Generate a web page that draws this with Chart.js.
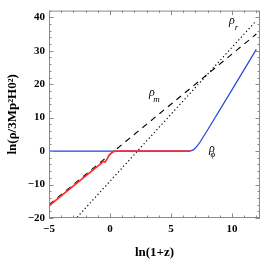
<!DOCTYPE html>
<html><head><meta charset="utf-8">
<script src="https://cdn.jsdelivr.net/npm/chart.js@4/dist/chart.umd.min.js"></script>
<style>html,body{margin:0;padding:0;background:#fff}#wrap{width:263px;height:263px}</style>
</head><body><div id="wrap"><canvas id="c" width="263" height="263"></canvas></div>
<script>
// ---- data ----
const xR   = [-5, 0, 5, 10, 12];
const rhoR = [-29, -9, 11, 31, 39];            // radiation (dotted)
const xM   = [-5, 0, 5, 10, 12];
const rhoM = [-16, -1, 14, 29, 35];            // matter (dashed)
const xPhiBlue = [-5, 6.4, 6.6, 6.8, 7.0, 7.2, 7.4, 8, 10, 12];
const rhoPhiBlue = [0, 0, 0.05, 0.3, 0.9, 1.8, 2.8, 6.3, 18.3, 30.4];
const xPhiRed = [-5, -3, -1, -0.7, -0.55, -0.4, -0.25, -0.1, 0.1, 0.3, 0.5, 1, 3, 6.6];
const rhoPhiRed = [-16.4, -10.4, -4.5, -3.6, -3.0, -3.3, -2.4, -1.4, -0.6, -0.1, 0, 0, 0, 0];
const xTicks = [-5, 0, 5, 10];
const yTicks = [-20, -10, 0, 10, 20, 30, 40];
const labelMain = ['ρ', 'ρ', 'ρ'];
const labelSub  = ['r', 'm', 'ϕ'];
const labelX = [10.0, 3.44, 8.36];
const labelY = [38.8, 17.3, 0.6];

const pts = (xs, ys) => xs.map((x, i) => ({x: x, y: ys[i]}));
const serif = "'Liberation Serif','DejaVu Serif',serif";
const minus = v => String(v).replace('-', '\u2212');

const framePlugin = {
  id: 'frame',
  afterDatasetsDraw(chart) {
    const {ctx, chartArea: a, scales: {x, y}} = chart;
    ctx.save();
    ctx.strokeStyle = '#8a8a8a';
    ctx.lineWidth = 1;
    ctx.strokeRect(a.left + 0.5, a.top + 0.5, a.right - a.left - 1, a.bottom - a.top - 1);
    ctx.beginPath();
    for (let v = -5; v <= 12; v += 1) {
      const p = Math.round(x.getPixelForValue(v)) + 0.5;
      const L = (xTicks.includes(v)) ? 4.5 : 2.5;
      ctx.moveTo(p, a.bottom); ctx.lineTo(p, a.bottom - L);
      ctx.moveTo(p, a.top); ctx.lineTo(p, a.top + L);
    }
    for (let v = -20; v <= 42; v += 2) {
      const p = Math.round(y.getPixelForValue(v)) + 0.5;
      const L = (yTicks.includes(v)) ? 4.5 : 2.5;
      ctx.moveTo(a.left, p); ctx.lineTo(a.left + L, p);
      ctx.moveTo(a.right, p); ctx.lineTo(a.right - L, p);
    }
    ctx.stroke();
    // curve labels
    ctx.fillStyle = '#000';
    ctx.textAlign = 'center';
    ctx.textBaseline = 'middle';
    for (let i = 0; i < labelMain.length; i++) {
      const px = x.getPixelForValue(labelX[i]);
      const py = y.getPixelForValue(labelY[i]);
      ctx.font = "italic 12px " + serif;
      ctx.fillText(labelMain[i], px, py);
      ctx.font = "italic 9px " + serif;
      const dx = labelSub[i] === 'ϕ' ? 1 : 4.5;
      ctx.fillText(labelSub[i], px + dx, py + 6);
    }
    ctx.restore();
  }
};

new Chart(document.getElementById('c'), {
  type: 'line',
  data: {
    datasets: [
      {data: pts(xPhiRed, rhoPhiRed), borderColor: '#ff2a2a', borderWidth: 1.7, order: 0},
      {data: pts(xPhiBlue, rhoPhiBlue), borderColor: '#2244dd', borderWidth: 1.2, order: 1},
      {data: pts(xM, rhoM), borderColor: '#000', borderWidth: 1.1, borderDash: [6, 5], order: 2},
      {data: pts(xR, rhoR), borderColor: '#000', borderWidth: 1.2, borderDash: [1.2, 2.6], order: 3}
    ]
  },
  options: {
    responsive: false,
    animation: false,
    events: [],
    elements: {point: {radius: 0}, line: {tension: 0, fill: false}},
    layout: {padding: {top: 2, right: 3, left: 0, bottom: 0}},
    plugins: {legend: {display: false}, tooltip: {enabled: false}},
    scales: {
      x: {
        type: 'linear', min: -5, max: 12.3,
        afterFit: s => { s.height = 45; },
        afterBuildTicks: s => { s.ticks = xTicks.map(v => ({value: v})); },
        ticks: {font: {family: serif, size: 11, weight: 'bold'}, color: '#000', padding: 5,
                maxRotation: 0, callback: v => minus(v)},
        grid: {drawOnChartArea: false, drawTicks: false},
        border: {display: false},
        title: {display: true, text: 'ln(1+z)', color: '#000',
                font: {family: serif, size: 13, weight: 'bold'}, padding: {top: 0, bottom: 3}}
      },
      y: {
        type: 'linear', min: -20, max: 42,
        afterFit: s => { s.width = 49; },
        afterBuildTicks: s => { s.ticks = yTicks.map(v => ({value: v})); },
        ticks: {font: {family: serif, size: 11, weight: 'bold'}, color: '#000', padding: 4,
                callback: v => minus(v)},
        grid: {drawOnChartArea: false, drawTicks: false},
        border: {display: false},
        title: {display: true, text: 'ln(ρ/3Mp²H0²)', color: '#000',
                font: {family: serif, size: 13, weight: 'bold'}, padding: {top: 5, bottom: 0}}
      }
    }
  },
  plugins: [framePlugin]
});
</script></body></html>
